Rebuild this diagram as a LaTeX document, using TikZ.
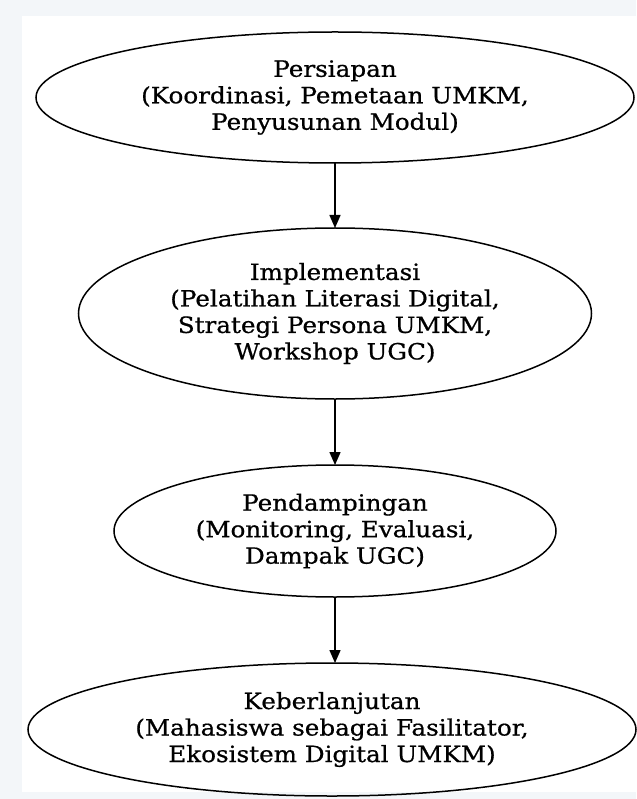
\documentclass[tikz,border=0pt]{standalone}
\usepackage{fontspec}
\setmainfont{DejaVu Serif}[FakeStretch=1.1, FakeBold=0.7]
\usepackage{tikz}
\usetikzlibrary{shapes.geometric,arrows.meta,positioning}

\definecolor{pagebg}{HTML}{F3F6F9}

\begin{document}
\begin{tikzpicture}[
    node distance=65pt,
    phase/.style={draw, ellipse, line width=1.5pt, inner sep=0pt, outer sep=0pt, align=center, font=\fontsize{22.4}{26.5}\selectfont},
    arrow/.style={-{Triangle[length=13pt, width=11pt]}, line width=1.5pt}
]
% page and panel
\useasboundingbox (0,0) rectangle (636pt,-799pt);
\fill[pagebg] (0,0) rectangle (636pt,-799pt);
\fill[white] (22pt,-16pt) rectangle (636pt,-792pt);

\node[phase, minimum width=598pt, minimum height=131pt] (persiapan) at (335pt,-97.5pt) {Persiapan\\(Koordinasi, Pemetaan UMKM,\\Penyusunan Modul)};
\node[phase, below=of persiapan, minimum width=513pt, minimum height=171pt] (implementasi) {Implementasi\\(Pelatihan Literasi Digital,\\Strategi Persona UMKM,\\Workshop UGC)};
\node[phase, below=66pt of implementasi, minimum width=442pt, minimum height=132pt] (pendampingan) {Pendampingan\\(Monitoring, Evaluasi,\\Dampak UGC)};
\node[phase, below=66pt of pendampingan, xshift=-3pt, minimum width=608pt, minimum height=133pt] (keberlanjutan) {Keberlanjutan\\(Mahasiswa sebagai Fasilitator,\\Ekosistem Digital UMKM)};

\draw[arrow] (persiapan) -- (implementasi);
\draw[arrow] (implementasi) -- (pendampingan);
\draw[arrow] (pendampingan.south) -- (pendampingan.south |- keberlanjutan.north);
\end{tikzpicture}
\end{document}
